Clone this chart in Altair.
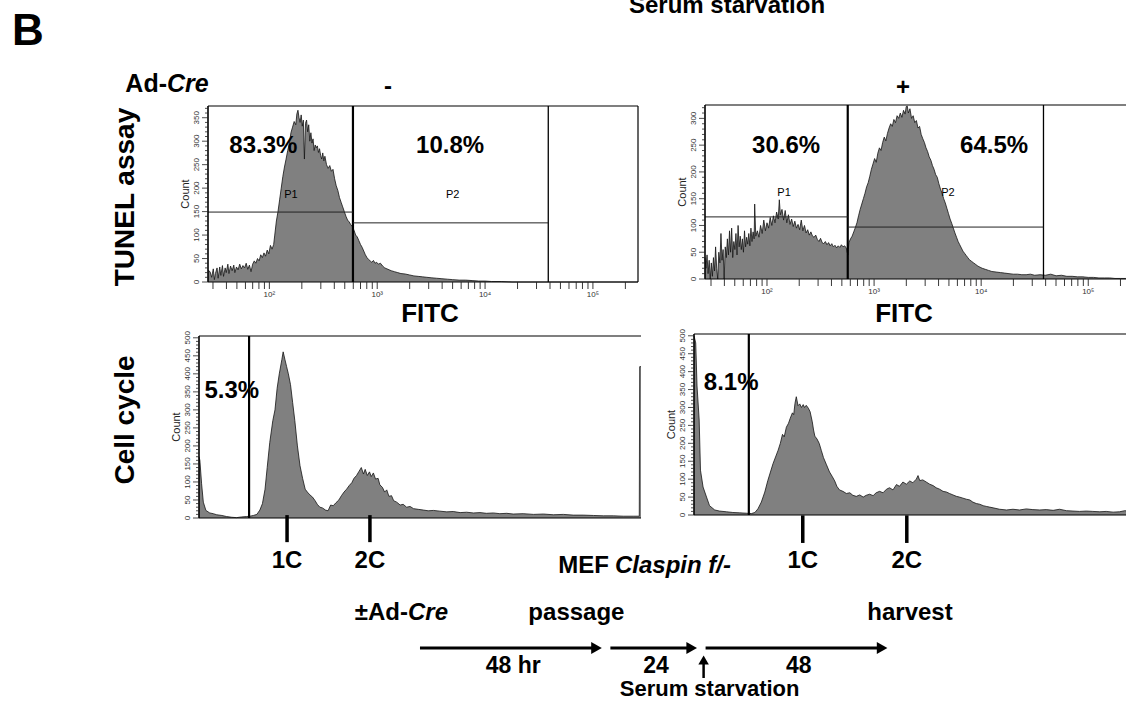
import math
import altair as alt
import pandas as pd

FONT = "Liberation Sans"
FILL = "#808080"
EDGE = "#141414"
W, H = 1126, 701

# ---------------- data ----------------
# TUNEL, Ad-Cre "-" : x = log10(FITC), y = count
tl_log = [1.431, 1.45, 1.465, 1.48, 1.49, 1.50, 1.515, 1.525, 1.54, 1.55,
          1.565, 1.575, 1.59, 1.60, 1.615, 1.625, 1.64, 1.655, 1.67, 1.68,
          1.695, 1.71, 1.725, 1.74, 1.755, 1.77, 1.785, 1.80, 1.815, 1.83,
          1.845, 1.86, 1.875, 1.89, 1.905, 1.92, 1.935, 1.95, 1.965, 1.98,
          1.995, 2.01, 2.025, 2.04, 2.05, 2.065, 2.08, 2.095, 2.11, 2.125,
          2.14, 2.155, 2.17, 2.185, 2.20, 2.215, 2.23, 2.245, 2.255, 2.265,
          2.275, 2.285, 2.295, 2.305, 2.315, 2.325, 2.335, 2.345, 2.355, 2.365,
          2.375, 2.385, 2.395, 2.405, 2.415, 2.425, 2.435, 2.445, 2.455, 2.465,
          2.475, 2.485, 2.495, 2.505, 2.515, 2.53, 2.545, 2.56, 2.575, 2.59,
          2.605, 2.62, 2.635, 2.65, 2.665, 2.68, 2.695, 2.71, 2.725, 2.74,
          2.755, 2.77, 2.785, 2.80, 2.815, 2.83, 2.845, 2.86, 2.875, 2.89,
          2.905, 2.92, 2.935, 2.95, 2.965, 2.98, 2.995, 3.01, 3.03, 3.05,
          3.07, 3.09, 3.11, 3.13, 3.16, 3.19, 3.22, 3.26, 3.30, 3.34,
          3.38, 3.42, 3.46, 3.50, 3.55, 3.60, 3.65, 3.70, 3.76, 3.82,
          3.88, 3.94, 4.00, 4.06, 4.15, 4.25, 5.418]
tl_cnt = [25, 22, 10, 28, 5, 18, 30, 8, 32, 14,
          35, 12, 30, 20, 38, 18, 34, 24, 36, 20,
          32, 26, 38, 28, 35, 30, 40, 27, 36, 22,
          38, 45, 40, 50, 45, 58, 52, 62, 55, 68,
          60, 78, 70, 80, 100, 130, 150, 175, 200, 225,
          245, 262, 280, 295, 318, 330, 342, 335, 358, 366,
          350, 340, 356, 332, 345, 262, 338, 345, 320, 335,
          300, 318, 296, 305, 280, 292, 286, 290, 276, 284,
          270, 262, 275, 258, 268, 250, 242, 248, 236, 240,
          220, 205, 195, 180, 170, 160, 150, 140, 132, 128,
          122, 118, 110, 100, 96, 88, 80, 74, 66, 58,
          52, 48, 45, 42, 46, 40, 42, 38, 40, 34,
          30, 28, 26, 24, 22, 20, 18, 17, 15, 13,
          12, 11, 10, 9, 8, 7, 6, 5, 4, 4,
          3, 2, 2, 1, 1, 0, 0]

# TUNEL, Ad-Cre "+"
tr_log = [1.421, 1.43, 1.44, 1.45, 1.46, 1.47, 1.48, 1.49, 1.50, 1.51,
          1.52, 1.53, 1.54, 1.55, 1.56, 1.57, 1.58, 1.59, 1.60, 1.61,
          1.62, 1.63, 1.64, 1.65, 1.66, 1.67, 1.68, 1.69, 1.70, 1.71,
          1.72, 1.73, 1.74, 1.75, 1.76, 1.77, 1.78, 1.79, 1.80, 1.81,
          1.82, 1.83, 1.84, 1.85, 1.86, 1.87, 1.88, 1.885, 1.895, 1.91,
          1.925, 1.94, 1.955, 1.97, 1.985, 2.00, 2.015, 2.03, 2.045, 2.06,
          2.075, 2.09, 2.105, 2.115, 2.125, 2.14, 2.155, 2.17, 2.185, 2.20,
          2.215, 2.23, 2.245, 2.26, 2.275, 2.29, 2.305, 2.32, 2.335, 2.35,
          2.365, 2.38, 2.395, 2.41, 2.425, 2.44, 2.455, 2.47, 2.485, 2.50,
          2.515, 2.53, 2.545, 2.56, 2.575, 2.59, 2.605, 2.62, 2.635, 2.65,
          2.665, 2.68, 2.695, 2.71, 2.725, 2.74, 2.755, 2.765, 2.78, 2.795,
          2.81, 2.825, 2.84, 2.855, 2.87, 2.885, 2.90, 2.915, 2.93, 2.945,
          2.96, 2.975, 2.99, 3.005, 3.02, 3.035, 3.05, 3.065, 3.08, 3.095,
          3.11, 3.125, 3.14, 3.155, 3.17, 3.185, 3.20, 3.215, 3.23, 3.245,
          3.26, 3.275, 3.29, 3.30, 3.31, 3.32, 3.335, 3.35, 3.365, 3.38,
          3.395, 3.41, 3.425, 3.44, 3.455, 3.47, 3.485, 3.50, 3.515, 3.53,
          3.545, 3.56, 3.575, 3.59, 3.605, 3.62, 3.635, 3.65, 3.665, 3.68,
          3.695, 3.71, 3.725, 3.74, 3.755, 3.77, 3.785, 3.80, 3.815, 3.83,
          3.845, 3.86, 3.875, 3.89, 3.91, 3.93, 3.95, 3.97, 3.99, 4.01,
          4.04, 4.07, 4.10, 4.14, 4.18, 4.22, 4.26, 4.30, 4.34, 4.38,
          4.42, 4.46, 4.50, 4.55, 4.60, 4.65, 4.70, 4.75, 4.80, 4.85,
          4.90, 4.95, 5.00, 5.05, 5.10, 5.15, 5.20, 5.25, 5.30, 5.35,
          5.418]
tr_cnt = [40, 20, 45, 10, 35, 0, 30, 5, 40, 15,
          60, 20, 0, 50, 30, 85, 35, 55, 0, 60,
          40, 75, 45, 90, 50, 95, 40, 70, 55, 85,
          45, 100, 60, 80, 55, 75, 50, 90, 60, 78,
          65, 85, 62, 95, 70, 88, 75, 140, 80, 90,
          78, 100, 85, 110, 90, 105, 95, 115, 100, 118,
          105, 125, 112, 148, 120, 130, 110, 128, 105, 120,
          102, 112, 98, 108, 95, 102, 92, 110, 90, 100,
          86, 92, 82, 88, 80, 78, 82, 74, 70, 76,
          68, 66, 70, 64, 68, 62, 66, 60, 63, 58,
          62, 59, 64, 60, 62, 58, 45, 68, 75, 80,
          88, 96, 105, 118, 130, 140, 150, 160, 172, 180,
          192, 205, 215, 225, 218, 235, 245, 240, 255, 265,
          258, 272, 282, 290, 285, 298, 292, 305, 300, 310,
          302, 315, 308, 322, 323, 310, 318, 300, 305, 292,
          296, 282, 285, 270, 262, 255, 245, 238, 228, 222,
          212, 205, 195, 190, 178, 168, 160, 150, 142, 132,
          122, 112, 104, 95, 86, 78, 70, 64, 58, 52,
          48, 44, 40, 36, 33, 30, 27, 24, 22, 20,
          18, 16, 14, 13, 12, 11, 10, 9, 9, 8,
          8, 9, 7, 8, 7, 9, 6, 7, 5, 5,
          4, 4, 3, 3, 2, 2, 2, 1, 1, 1,
          0]

# Cell cycle, Ad-Cre "-" : x = DNA channel, y = count
bl_ch = [0, 2, 6, 10, 16, 25, 33, 41, 53, 64,
         76, 87, 99, 110, 118, 126, 134, 141, 147, 153,
         158, 164, 171, 176, 181, 186, 192, 195, 199, 203,
         207, 212, 217, 222, 228, 234, 240, 246, 251, 257,
         263, 269, 274, 280, 286, 293, 299, 305, 311, 317,
         324, 330, 336, 342, 348, 354, 359, 365, 371, 376,
         381, 385, 390, 395, 399, 404, 409, 415, 419, 425,
         430, 435, 440, 446, 451, 458, 466, 473, 481, 489,
         497, 508, 520, 531, 543, 558, 574, 589, 605, 620,
         636, 651, 666, 682, 697, 713, 728, 751, 775, 798,
         821, 844, 867, 890, 914, 937, 960, 983, 1006, 1020,
         1021, 1024]
bl_cnt = [170, 160, 95, 44, 21, 14, 12, 9, 7, 4,
          2, 1, 3, 4, 5, 7, 10, 22, 40, 80,
          140, 210, 270, 300, 360, 400, 440, 461, 440, 420,
          400, 370, 320, 270, 200, 145, 110, 80, 72, 64,
          58, 48, 38, 30, 28, 22, 20, 36, 34, 42,
          50, 62, 72, 80, 90, 98, 110, 118, 130, 140,
          122, 135, 118, 128, 115, 125, 108, 110, 92, 85,
          72, 78, 60, 62, 48, 44, 36, 38, 30, 32,
          26, 24, 22, 20, 21, 19, 17, 18, 15, 16,
          14, 15, 13, 14, 12, 13, 11, 12, 10, 11,
          9, 10, 8, 8, 7, 6, 6, 5, 5, 5,
          420, 420]

# Cell cycle, Ad-Cre "+"
br_ch = [0, 4, 7, 12, 15, 21, 29, 36, 48, 59,
         75, 90, 106, 121, 133, 141, 148, 156, 164, 171,
         183, 195, 200, 205, 209, 214, 219, 223, 228, 231,
         234, 237, 241, 245, 249, 253, 256, 260, 265, 269,
         274, 277, 280, 285, 290, 295, 300, 307, 314, 320,
         326, 331, 337, 345, 353, 361, 368, 376, 384, 392,
         399, 407, 415, 422, 430, 438, 446, 453, 461, 469,
         476, 484, 492, 500, 507, 515, 519, 523, 530, 538,
         546, 554, 561, 569, 577, 585, 592, 600, 608, 615,
         623, 631, 639, 646, 654, 662, 670, 677, 685, 693,
         708, 724, 739, 754, 770, 785, 801, 816, 832, 847,
         863, 878, 893, 909, 924, 940, 955, 971, 986, 998,
         1010, 1024]
br_cnt = [500, 480, 360, 265, 125, 78, 50, 26, 14, 11,
          9, 7, 6, 5, 4, 7, 17, 36, 64, 96,
          143, 181, 200, 225, 218, 245, 256, 270, 285, 280,
          312, 330, 305, 310, 300, 308, 300, 306, 298, 288,
          260, 237, 220, 212, 200, 180, 160, 140, 120, 108,
          95, 80, 70, 66, 60, 62, 55, 52, 56, 50,
          55, 58, 54, 62, 66, 62, 72, 76, 70, 85,
          80, 92, 86, 95, 90, 100, 110, 96, 98, 92,
          86, 82, 76, 72, 66, 64, 60, 56, 52, 50,
          47, 44, 42, 36, 32, 30, 26, 24, 22, 20,
          16, 14, 16, 14, 17, 15, 14, 15, 13, 16,
          12, 11, 10, 11, 10, 9, 10, 8, 9, 12,
          10, 9]

# gates (x in the panel's data units) and gate levels
tl_gates = [2.775, 4.586]
tl_p_levels = [149, 126]
tr_gates = [2.754, 4.582]
tr_p_levels = [116, 97]
bl_gate = 116
br_gate = 127

# label anchors in data units
tl_pct = ["83.3%", "10.8%"]
tl_pct_x = [1.944, 3.676]
tl_pct_y = 275
tl_p_x = [2.20, 3.70]
tl_p_y = 185
tr_pct = ["30.6%", "64.5%"]
tr_pct_x = [2.178, 4.121]
tr_pct_y = 235
tr_p_x = [2.159, 3.69]
tr_p_y = 161
bl_pct, bl_pct_x, bl_pct_y = "5.3%", 76, 333
br_pct, br_pct_x, br_pct_y = "8.1%", 86, 349
phase_names = ["1C", "2C"]
bl_phase = [204, 396]
br_phase = [252, 493]

# axis tick labels
log_powers = [2, 3, 4, 5]
log_power_labels = ["10²", "10³", "10⁴", "10⁵"]

# timeline (hours)
events = [0, 48, 72, 120]
seg_labels = ["48 hr", "24", "48"]

# ---------------- layout of the panels (pixel ranges of scales) ----------------
TL_X, TL_Y = [208, 638], [282, 106]
TR_X, TR_Y = [705, 1133], [279, 105]
BL_X, BL_Y = [199, 641], [518, 336]
BR_X, BR_Y = [694, 1136], [515, 334]
TL_XDOM, TR_XDOM = [1.431, 5.418], [1.421, 5.418]
TL_YDOM, TR_YDOM = [0, 375], [0, 325]
CC_XDOM, CC_YDOM = [0, 1024], [0, 505]
HR_DOM, HR_RNG = [0, 120], [418, 894]


def sc(dom, rng):
    return alt.Scale(domain=dom, range=rng, nice=False, zero=False)


def X(field, dom, rng):
    return alt.X(f"{field}:Q", scale=sc(dom, rng), axis=None)


def Y(field, dom, rng):
    return alt.Y(f"{field}:Q", scale=sc(dom, rng), axis=None)


log_ticks = [math.log10(m * 10 ** e) for e in range(1, 6) for m in range(1, 10)
             if 1.431 <= math.log10(m * 10 ** e) <= 5.418]


def histogram(xv, cv, xdom, xrng, ydom, yrng):
    df = pd.DataFrame({"x": xv, "c": cv})
    return alt.Chart(df).mark_area(color=FILL, opacity=1, interpolate="linear",
                                   line={"color": EDGE, "strokeWidth": 0.8}).encode(
        x=X("x", xdom, xrng), y=Y("c", ydom, yrng))


def segs(rows, xdom, xrng, ydom, yrng, width, color="black"):
    df = pd.DataFrame(rows, columns=["x", "x2", "y", "y2"])
    return alt.Chart(df).mark_rule(color=color, strokeWidth=width).encode(
        x=X("x", xdom, xrng), x2="x2:Q", y=Y("y", ydom, yrng), y2="y2:Q")


def labels(xs, ys, ts, xdom, xrng, ydom, yrng, size, weight="bold", baseline="alphabetic"):
    df = pd.DataFrame({"x": xs, "y": ys, "t": ts})
    return alt.Chart(df).mark_text(font=FONT, fontSize=size, fontWeight=weight, color="black",
                                   align="center", baseline=baseline).encode(
        x=X("x", xdom, xrng), y=Y("y", ydom, yrng), text="t:N")


def y_axis(xdom, xrng, ydom, yrng, top):
    """Count axis drawn on the panel's own scales: line, ticks every 10, labels every 50."""
    x0 = xdom[0]
    minor = pd.DataFrame({"x": x0, "y": [v for v in range(0, top + 1, 10) if v % 50]})
    major = pd.DataFrame({"x": x0, "y": list(range(0, top + 1, 50)),
                          "t": [str(v) for v in range(0, top + 1, 50)]})
    title = pd.DataFrame({"x": [x0], "y": [(ydom[0] + ydom[1]) / 2], "t": ["Count"]})
    return [
        segs([[x0, x0, ydom[0], ydom[1]]], xdom, xrng, ydom, yrng, 1.6),
        alt.Chart(minor).mark_rule(color="#222", strokeWidth=0.8, x2Offset=-3).encode(
            x=X("x", xdom, xrng), x2="x:Q", y=Y("y", ydom, yrng)),
        alt.Chart(major).mark_rule(color="#222", strokeWidth=0.8, x2Offset=-6).encode(
            x=X("x", xdom, xrng), x2="x:Q", y=Y("y", ydom, yrng)),
        alt.Chart(major).mark_text(font=FONT, fontSize=8, color="#333", angle=270, align="center",
                                   baseline="bottom", xOffset=-7).encode(
            x=X("x", xdom, xrng), y=Y("y", ydom, yrng), text="t:N"),
        alt.Chart(title).mark_text(font=FONT, fontSize=11, color="#222", angle=270, align="center",
                                   baseline="bottom", xOffset=-17).encode(
            x=X("x", xdom, xrng), y=Y("y", ydom, yrng), text="t:N"),
    ]


def x_axis_log(xdom, xrng, ydom, yrng):
    ticks = pd.DataFrame({"x": log_ticks, "y": 0})
    labs = pd.DataFrame({"x": log_powers, "y": 0, "t": log_power_labels})
    return [
        segs([[xdom[0], xdom[1], 0, 0]], xdom, xrng, ydom, yrng, 1.2),
        alt.Chart(ticks).mark_rule(color="#222", strokeWidth=0.9, y2Offset=7).encode(
            x=X("x", xdom, xrng), y=Y("y", ydom, yrng), y2="y:Q"),
        alt.Chart(labs).mark_text(font=FONT, fontSize=8, color="#333", align="center",
                                  baseline="top", yOffset=9).encode(
            x=X("x", xdom, xrng), y=Y("y", ydom, yrng), text="t:N"),
    ]


# ---------------- TUNEL panels ----------------
def tunel_panel(lg, cnt, xdom, xrng, ydom, yrng, gates, levels, pct, pct_x, pct_y, p_x, p_y, top, frame_right):
    xl, xr = xdom
    ymax = ydom[1]
    parts = [histogram(lg, cnt, xdom, xrng, ydom, yrng)]
    frame = [[xl, xr, ymax, ymax]]
    if frame_right:
        frame.append([xr, xr, 0, ymax])
    parts.append(segs(frame, xdom, xrng, ydom, yrng, 1.2))
    parts.append(segs([[gates[0], gates[0], 0, ymax]], xdom, xrng, ydom, yrng, 2.2))
    parts.append(segs([[gates[1], gates[1], 0, ymax]], xdom, xrng, ydom, yrng, 1.3))
    parts.append(segs([[xl, gates[0], levels[0], levels[0]],
                       [gates[0], gates[1], levels[1], levels[1]]], xdom, xrng, ydom, yrng, 1.0, "#222"))
    parts.append(labels(pct_x, [pct_y, pct_y], pct, xdom, xrng, ydom, yrng, 24))
    parts.append(labels(p_x, [p_y, p_y], ["P1", "P2"], xdom, xrng, ydom, yrng, 11, "normal", "middle"))
    parts += y_axis(xdom, xrng, ydom, yrng, top)
    parts += x_axis_log(xdom, xrng, ydom, yrng)
    return alt.layer(*parts)


tl = tunel_panel(tl_log, tl_cnt, TL_XDOM, TL_X, TL_YDOM, TL_Y, tl_gates, tl_p_levels,
                 tl_pct, tl_pct_x, tl_pct_y, tl_p_x, tl_p_y, 370, True)
tr = tunel_panel(tr_log, tr_cnt, TR_XDOM, TR_X, TR_YDOM, TR_Y, tr_gates, tr_p_levels,
                 tr_pct, tr_pct_x, tr_pct_y, tr_p_x, tr_p_y, 320, False)


# ---------------- cell-cycle panels ----------------
def cycle_panel(ch, cnt, xrng, yrng, gate, pct, pct_x, pct_y, phases, tick_top, tick_bot, lab_y):
    ymax = CC_YDOM[1]
    parts = [histogram(ch, cnt, CC_XDOM, xrng, CC_YDOM, yrng)]
    parts.append(segs([[0, 1024, ymax, ymax]], CC_XDOM, xrng, CC_YDOM, yrng, 1.2))
    parts.append(segs([[0, 1024, 0, 0]], CC_XDOM, xrng, CC_YDOM, yrng, 1.2))
    parts.append(segs([[gate, gate, 0, ymax]], CC_XDOM, xrng, CC_YDOM, yrng, 2.2))
    parts.append(labels([pct_x], [pct_y], [pct], CC_XDOM, xrng, CC_YDOM, yrng, 24))
    parts.append(segs([[p, p, tick_top, tick_bot] for p in phases], CC_XDOM, xrng, CC_YDOM, yrng, 3.5))
    parts.append(labels(phases, [lab_y] * len(phases), phase_names, CC_XDOM, xrng, CC_YDOM, yrng, 24))
    parts += y_axis(CC_XDOM, xrng, CC_YDOM, yrng, 500)
    return alt.layer(*parts)


bl = cycle_panel(bl_ch, bl_cnt, BL_X, BL_Y, bl_gate, bl_pct, bl_pct_x, bl_pct_y, bl_phase, 8, -67, -139)
br = cycle_panel(br_ch, br_cnt, BR_X, BR_Y, br_gate, br_pct, br_pct_x, br_pct_y, br_phase, -1, -78, -148)

# ---------------- timeline ----------------
hs = sc(HR_DOM, HR_RNG)
seg_df = pd.DataFrame({
    "s": [e + 0.5 for e in events[:-1]],
    "e": [e - 3.0 for e in events[1:]],
    "m": [(a + b) / 2 for a, b in zip(events[:-1], events[1:])],
    "lab": seg_labels,
})
ev_df = pd.DataFrame({"t": events})

arrows = alt.Chart(seg_df).mark_rule(color="black", strokeWidth=3).encode(
    x=alt.X("s:Q", scale=hs, axis=None), x2="e:Q", y=alt.value(648))
heads = alt.Chart(seg_df).mark_point(shape="triangle-right", filled=True, size=150,
                                     color="black", opacity=1).encode(
    x=alt.X("e:Q", scale=hs, axis=None), y=alt.value(648))
seg_text = alt.Chart(seg_df).mark_text(font=FONT, fontSize=23, fontWeight="bold", align="center",
                                       baseline="alphabetic").encode(
    x=alt.X("m:Q", scale=hs, axis=None), y=alt.value(673), text="lab:N")


def ev_text(idx, txt, dx, y, align="center", style="normal", size=24):
    return alt.Chart(ev_df.iloc[[idx]]).mark_text(
        font=FONT, fontSize=size, fontWeight="bold", fontStyle=style, align=align,
        baseline="alphabetic", dx=dx).encode(
        x=alt.X("t:Q", scale=hs, axis=None), y=alt.value(y), text=alt.value(txt))


up_rule = alt.Chart(ev_df.iloc[[2]]).mark_rule(color="black", strokeWidth=2.5).encode(
    x=alt.X("t:Q", scale=hs, axis=None), y=alt.value(678), y2=alt.value(664))
up_head = alt.Chart(ev_df.iloc[[2]]).mark_point(shape="triangle-up", filled=True, size=110,
                                                 color="black", opacity=1).encode(
    x=alt.X("t:Q", scale=hs, axis=None), y=alt.value(660))

timeline = alt.layer(
    arrows, heads, seg_text,
    ev_text(0, "±Ad-", -10, 620, "right"),
    ev_text(0, "Cre", -10, 620, "left", "italic"),
    ev_text(1, "passage", -32, 620),
    ev_text(3, "harvest", 16, 620),
    ev_text(2, "Serum starvation", 6, 696, size=22),
    up_rule, up_head,
)

# ---------------- static annotations ----------------
one = pd.DataFrame({"k": [0]})


def note(txt, x, y, size=24, align="center", style="normal", angle=0, baseline="alphabetic"):
    return alt.Chart(one).mark_text(font=FONT, fontSize=size, fontWeight="bold", fontStyle=style,
                                    align=align, angle=angle, baseline=baseline, color="black").encode(
        x=alt.value(x), y=alt.value(y), text=alt.value(txt))


notes = [
    note("B", 12, 45, 44, "left"),
    note("Serum starvation", 727, 13),
    note("Ad-", 167, 92, size=25, align="right"),
    note("Cre", 167, 92, size=25, align="left", style="italic"),
    note("-", 388, 94),
    note("+", 903, 95),
    note("TUNEL assay", 126, 197, size=28, angle=270, baseline="middle"),
    note("Cell cycle", 126, 420, size=28, angle=270, baseline="middle"),
    note("FITC", 430, 322, size=26),
    note("FITC", 904, 322, size=26),
    note("MEF", 609, 573, align="right"),
    note("Claspin f/-", 615, 573, align="left", style="italic"),
]

chart = alt.layer(tl, tr, bl, br, timeline, *notes).resolve_scale(
    x="independent", y="independent"
).properties(
    width=W, height=H, padding=0, autosize=alt.AutoSizeParams(type="none")
).configure_view(stroke="transparent")

chart.save("out.html", embed_options={"renderer": "svg", "actions": False})
